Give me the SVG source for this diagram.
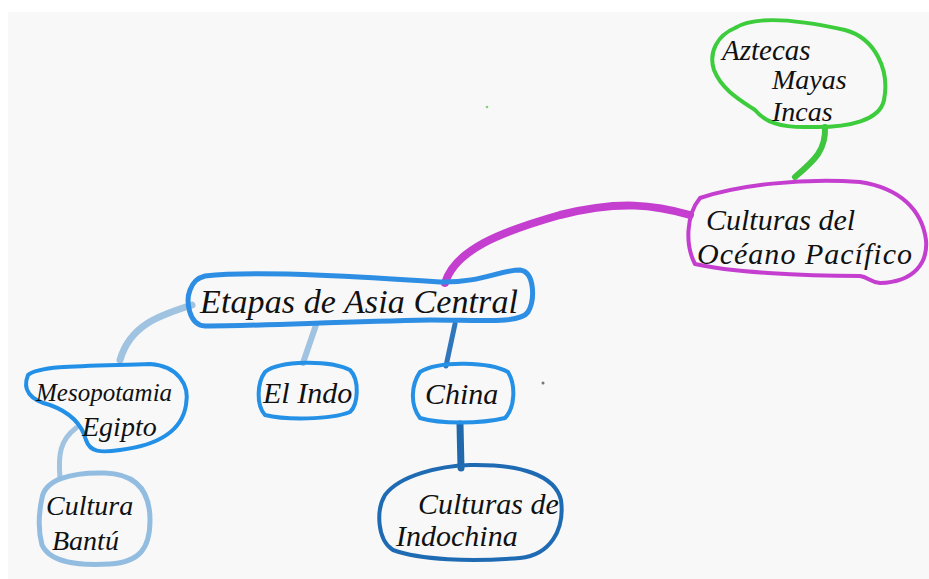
<svg xmlns="http://www.w3.org/2000/svg" width="929" height="579" viewBox="0 0 929 579">
<style>
.t{font-family:"Liberation Serif","DejaVu Serif",serif;font-style:italic;fill:#111;font-size:30px}
.n{fill:none;stroke-linejoin:round;stroke-linecap:round}
.c{fill:none;stroke-linecap:round}
</style>
<rect width="929" height="579" fill="#ffffff"/>
<rect x="8" y="12" width="921" height="567" fill="#f8f8f8"/>
<circle cx="487" cy="107" r="1.3" fill="#7fd07f"/>
<circle cx="543" cy="383" r="1.5" fill="#777"/>
<g id="connectors">
<path class="c" d="M825,127 C826,150 815,160 795,177" stroke="#3fc63f" stroke-width="6"/>
<path class="c" d="M445,283 C455,250 500,232 560,215 C620,200 655,205 690,215" stroke="#c43fcf" stroke-width="8"/>
<path class="c" d="M192,305 C160,315 130,325 120,360" stroke="#9fc3e0" stroke-width="7"/>
<path class="c" d="M316,325 L303,363" stroke="#9fc3e0" stroke-width="6"/>
<path class="c" d="M455,324 L446,366" stroke="#2f76bd" stroke-width="5"/>
<path class="c" d="M460,424 L461,468" stroke="#2169ad" stroke-width="7"/>
<path class="c" d="M76,428 C60,440 58,455 60,478" stroke="#9fc3e0" stroke-width="5"/>
</g>
<g id="aztecas">
<path class="n" d="M735,28 C755,15 800,20 845,30 C875,38 890,70 884,100 C880,120 850,128 810,127 C780,128 765,122 755,110 C740,100 722,90 714,70 C708,52 718,35 735,28 Z" fill="#f8f8f8" stroke="#3ccc3c" stroke-width="4"/>
<text class="t" x="722" y="60" style="font-size:29px">Aztecas</text>
<text class="t" x="772" y="89" style="font-size:28px">Mayas</text>
<text class="t" x="772" y="121" style="font-size:28px">Incas</text>
</g>
<g id="pacifico">
<path class="n" d="M700,198 C740,185 800,178 860,182 C900,188 922,210 926,240 C928,262 915,282 880,283 C870,282 868,277 860,276 C800,276 730,272 695,264 C685,245 686,215 700,198 Z" fill="#f8f8f8" stroke="#c43fcf" stroke-width="4"/>
<text class="t" x="706" y="230">Culturas del</text>
<text class="t" x="697" y="264" textLength="215">Océano  Pacífico</text>
</g>
<g id="etapas">
<path class="n" d="M205,276 C260,270 380,278 440,282 C480,283 500,270 520,270 C535,272 535,300 528,312 C520,324 480,320 430,320 C330,322 260,326 205,326 C188,325 186,300 190,290 C193,282 197,278 205,276 Z" fill="#f8f8f8" stroke="#2d8ee3" stroke-width="5"/>
<text class="t" x="200" y="313" style="font-size:34px" textLength="318">Etapas de Asia Central</text>
</g>
<g id="mesopotamia">
<path class="n" d="M28,375 C40,365 90,366 150,364 C178,366 190,385 186,405 C182,430 160,445 120,450 C100,453 90,452 86,440 C82,425 72,413 50,405 C30,400 22,390 28,375 Z" fill="#f8f8f8" stroke="#2390e8" stroke-width="4"/>
<text class="t" x="36" y="401" style="font-size:25px">Mesopotamia</text>
<text class="t" x="82" y="436" style="font-size:28px">Egipto</text>
</g>
<g id="bantu">
<path class="n" d="M42,498 C45,480 70,472 105,473 C135,474 150,490 150,520 C150,548 140,562 110,564 C75,566 50,562 42,545 C38,530 39,512 42,498 Z" fill="#f8f8f8" stroke="#93bde0" stroke-width="5"/>
<text class="t" x="46" y="515" style="font-size:28px">Cultura</text>
<text class="t" x="52" y="550" style="font-size:28px">Bantú</text>
</g>
<g id="indo">
<path class="n" d="M265,372 C280,360 330,360 350,370 C360,380 358,405 350,412 C330,420 285,420 265,415 C256,405 257,383 265,372 Z" fill="#f8f8f8" stroke="#2490e6" stroke-width="4"/>
<text class="t" x="263" y="403">El Indo</text>
</g>
<g id="china">
<path class="n" d="M420,372 C440,360 490,362 508,372 C516,385 515,408 505,418 C480,424 440,424 420,418 C410,405 411,385 420,372 Z" fill="#f8f8f8" stroke="#2490e6" stroke-width="4"/>
<text class="t" x="425" y="404">China</text>
</g>
<g id="indochina">
<path class="n" d="M385,495 C400,475 440,466 470,465 C520,464 555,475 561,500 C565,530 550,555 520,558 C470,562 420,560 393,550 C377,540 376,510 385,495 Z" fill="#f8f8f8" stroke="#1f6bb3" stroke-width="4"/>
<text class="t" x="418" y="514">Culturas de</text>
<text class="t" x="396" y="546">Indochina</text>
</g>
</svg>
